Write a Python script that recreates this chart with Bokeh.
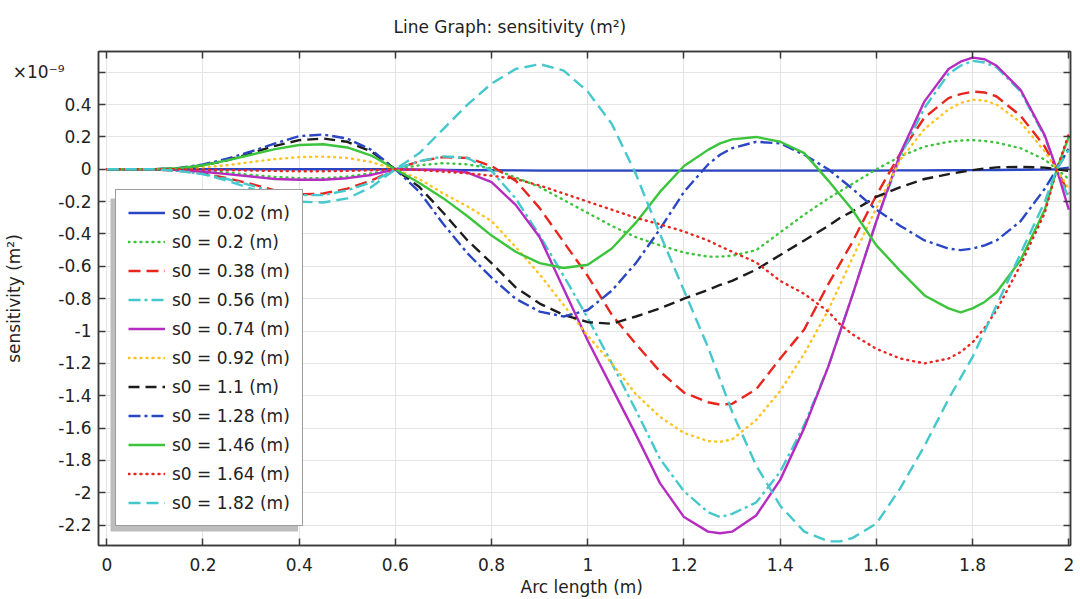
from bokeh.plotting import figure
from bokeh.models import (Range1d, LinearAxis, FixedTicker, Legend, LegendItem,
                          BoxAnnotation, CustomLabelingPolicy)
from bokeh.embed import file_html
from bokeh.resources import INLINE

# ---------------- data (values in 1e-9 m^2) ----------------
arc_length = [0.0, 0.05, 0.1, 0.15, 0.2, 0.25, 0.3, 0.35, 0.4, 0.45,
              0.5, 0.55, 0.6, 0.65, 0.7, 0.75, 0.8, 0.85, 0.9, 0.95,
              1.0, 1.05, 1.1, 1.15, 1.2, 1.25, 1.275, 1.3, 1.35, 1.4, 1.45,
              1.5, 1.525, 1.55, 1.6, 1.65, 1.7, 1.75, 1.775, 1.8, 1.825, 1.85, 1.9, 1.95,
              1.975, 2.0]

series_labels = ["s0 = 0.02 (m)", "s0 = 0.2 (m)", "s0 = 0.38 (m)", "s0 = 0.56 (m)",
                 "s0 = 0.74 (m)", "s0 = 0.92 (m)", "s0 = 1.1 (m)", "s0 = 1.28 (m)",
                 "s0 = 1.46 (m)", "s0 = 1.64 (m)", "s0 = 1.82 (m)"]

sens_s0_002 = [0, 0, 0, 0, 0, 0, 0, 0, 0, 0,
               0, 0, 0, -0.002, -0.004, -0.005, -0.006, -0.007, -0.008, -0.008,
               -0.008, -0.008, -0.008, -0.008, -0.008, -0.008, -0.008, -0.008, -0.008, -0.008, -0.008,
               -0.008, -0.008, -0.008, -0.008, -0.007, -0.007, -0.006, -0.005, -0.005, -0.005, -0.004, -0.003, -0.002,
               0, 0.01]
sens_s0_020 = [0, 0, 0, -0.003, -0.01, -0.02, -0.035, -0.047, -0.055, -0.055,
               -0.045, -0.025, 0, 0.025, 0.038, 0.03, 0.005, -0.05, -0.11, -0.19,
               -0.27, -0.35, -0.42, -0.47, -0.515, -0.54, -0.54, -0.535, -0.5, -0.39, -0.28,
               -0.18, -0.135, -0.09, 0.0, 0.08, 0.14, 0.17, 0.178, 0.18, 0.175, 0.165, 0.13, 0.06,
               0, -0.06]
sens_s0_038 = [0, 0, 0, -0.01, -0.025, -0.055, -0.09, -0.13, -0.155, -0.15,
               -0.12, -0.07, 0, 0.05, 0.075, 0.07, 0.02, -0.07, -0.24, -0.45,
               -0.66, -0.9, -1.08, -1.25, -1.38, -1.44, -1.455, -1.45, -1.36, -1.17, -0.99,
               -0.71, -0.58, -0.45, -0.16, 0.1, 0.32, 0.44, 0.465, 0.48, 0.475, 0.45, 0.33, 0.14,
               0, -0.15]
sens_s0_056 = [0, 0, 0, -0.01, -0.03, -0.06, -0.1, -0.14, -0.16, -0.16,
               -0.13, -0.08, 0, 0.05, 0.08, 0.07, -0.01, -0.18, -0.41, -0.66,
               -0.92, -1.2, -1.49, -1.79, -1.99, -2.12, -2.15, -2.13, -2.06, -1.87, -1.58,
               -1.22, -1.0, -0.78, -0.32, 0.08, 0.38, 0.59, 0.64, 0.67, 0.66, 0.63, 0.48, 0.2,
               0, -0.18]
sens_s0_074 = [0, 0, 0, -0.005, -0.015, -0.03, -0.045, -0.06, -0.065, -0.065,
               -0.055, -0.035, 0, -0.003, -0.004, -0.02, -0.08, -0.22, -0.42, -0.74,
               -1.06, -1.35, -1.64, -1.94, -2.15, -2.24, -2.25, -2.24, -2.14, -1.92, -1.6,
               -1.22, -1.0, -0.78, -0.32, 0.1, 0.42, 0.62, 0.665, 0.69, 0.68, 0.64, 0.49, 0.21,
               0, -0.25]
sens_s0_092 = [0, 0, 0, 0.003, 0.012, 0.025, 0.045, 0.063, 0.075, 0.078,
               0.07, 0.045, 0, -0.06, -0.15, -0.23, -0.32, -0.48, -0.65, -0.84,
               -1.03, -1.2, -1.39, -1.53, -1.63, -1.68, -1.685, -1.67, -1.55, -1.37, -1.14,
               -0.87, -0.71, -0.55, -0.24, 0.06, 0.25, 0.37, 0.41, 0.43, 0.425, 0.4, 0.29, 0.11,
               0, -0.12]
sens_s0_110 = [0, 0, 0, 0.005, 0.025, 0.055, 0.1, 0.145, 0.18, 0.19,
               0.17, 0.11, 0, -0.11, -0.27, -0.44, -0.58, -0.73, -0.83, -0.9,
               -0.945, -0.955, -0.91, -0.86, -0.8, -0.745, -0.715, -0.69, -0.62, -0.53, -0.44,
               -0.35, -0.3, -0.26, -0.17, -0.11, -0.06, -0.03, -0.017, -0.005, 0.004, 0.012, 0.015, 0.01,
               0, -0.01]
sens_s0_128 = [0, 0, 0, 0.008, 0.03, 0.065, 0.11, 0.16, 0.205, 0.215,
               0.19, 0.12, 0, -0.14, -0.34, -0.52, -0.67, -0.8, -0.88, -0.91,
               -0.87, -0.75, -0.58, -0.37, -0.14, 0.03, 0.09, 0.13, 0.17, 0.16, 0.09,
               0.0, -0.06, -0.12, -0.25, -0.35, -0.44, -0.49, -0.5, -0.49, -0.47, -0.44, -0.32, -0.12,
               0, 0.13]
sens_s0_146 = [0, 0, 0, 0.006, 0.025, 0.055, 0.09, 0.125, 0.15, 0.155,
               0.135, 0.085, 0, -0.085, -0.18, -0.29, -0.41, -0.51, -0.58, -0.61,
               -0.59, -0.49, -0.33, -0.14, 0.02, 0.12, 0.16, 0.185, 0.2, 0.17, 0.1,
               -0.07, -0.16, -0.25, -0.47, -0.63, -0.78, -0.86, -0.885, -0.86, -0.82, -0.76, -0.56, -0.25,
               0, 0.2]
sens_s0_164 = [0, 0, 0, 0, -0.003, -0.005, -0.008, -0.01, -0.012, -0.012,
               -0.01, -0.006, 0, -0.005, -0.015, -0.025, -0.04, -0.06, -0.1, -0.15,
               -0.2, -0.25, -0.3, -0.34, -0.385, -0.44, -0.476, -0.51, -0.575, -0.69, -0.77,
               -0.88, -0.96, -1.02, -1.11, -1.17, -1.2, -1.17, -1.13, -1.07, -0.98, -0.87, -0.59, -0.27,
               0, 0.22]
sens_s0_182 = [0, 0, 0, -0.01, -0.03, -0.07, -0.12, -0.17, -0.2, -0.205,
               -0.18, -0.11, 0, 0.1, 0.25, 0.4, 0.53, 0.62, 0.65, 0.61,
               0.48, 0.28, -0.03, -0.4, -0.75, -1.1, -1.3, -1.5, -1.83, -2.08, -2.24,
               -2.3, -2.3, -2.28, -2.19, -1.97, -1.71, -1.42, -1.29, -1.16, -1.0, -0.84, -0.52, -0.2,
               0, 0.12]

x_ticks = [0.0, 0.2, 0.4, 0.6, 0.8, 1.0, 1.2, 1.4, 1.6, 1.8, 2.0]
x_tick_labels = ["0", "0.2", "0.4", "0.6", "0.8", "1", "1.2", "1.4", "1.6", "1.8", "2"]
y_ticks = [-2.2, -2.0, -1.8, -1.6, -1.4, -1.2, -1.0, -0.8, -0.6, -0.4, -0.2, 0.0,
           0.2, 0.4, 0.6]
y_tick_labels = ["-2.2", "-2", "-1.8", "-1.6", "-1.4", "-1.2", "-1", "-0.8", "-0.6",
                 "-0.4", "-0.2", "0", "0.2", "0.4",
                 "×10⁻⁹\u00a0\u00a0\u00a0\u00a0\u00a0"]   # scale factor shown at top-left

title_text = "Line Graph: sensitivity (m²)"
x_title = "Arc length  (m)"
y_title = "sensitivity (m²)"

# ---------------- styles ----------------
all_series = [sens_s0_002, sens_s0_020, sens_s0_038, sens_s0_056, sens_s0_074,
              sens_s0_092, sens_s0_110, sens_s0_128, sens_s0_146, sens_s0_164,
              sens_s0_182]
colors = ["#2b46c4", "#3cc43c", "#e8261e", "#45c8cc", "#b42cc0", "#ffc31f",
          "#1c1c1c", "#2b46c4", "#3cc43c", "#e8261e", "#45c8cc"]
dashes = ["solid", "1 5", "12 6", "12 4 3 4", "solid", "1 5", "11 6", "12 4 3 4",
          "solid", "1 5", "12 6"]

FONT = "DejaVu Sans"
TXT = "#222222"

# frame geometry in pixels
W, H = 1080, 599
FL, FR, FT, FB = 96, 1070, 49, 546
X0_PX, X_PER = 104.3, 482.0      # pixel of x=0, pixels per unit
Y0_PX, Y_PER = 167.5, 162.75     # pixel of y=0, pixels per unit


def dx(px):
    return (px - X0_PX) / X_PER


def dy(py):
    return (Y0_PX - py) / Y_PER


p = figure(width=W, height=H, output_backend="svg", toolbar_location=None,
           x_range=Range1d(dx(FL), dx(FR)), y_range=Range1d(dy(FB), dy(FT)),
           min_border_left=FL, min_border_right=W - FR,
           min_border_top=FT, min_border_bottom=H - FB)
p.background_fill_color = "white"
p.border_fill_color = "white"
p.outline_line_color = "#3a3a3a"
p.outline_line_width = 1.5

p.title.text = title_text
p.title.align = "left"
p.title.offset = 391 - FL
p.title.text_font = FONT
p.title.text_font_size = "17px"
p.title.text_font_style = "normal"
p.title.text_color = TXT
p.title.standoff = 29

# grid
p.xgrid.ticker = FixedTicker(ticks=x_ticks)
p.ygrid.ticker = FixedTicker(ticks=y_ticks)
for g in (p.xgrid, p.ygrid):
    g.grid_line_color = "#e4e4e4"
    g.grid_line_width = 1


def style_axis(ax, ticks, labels, show_labels):
    ax.ticker = FixedTicker(ticks=ticks)
    ax.major_label_overrides = {t: l for t, l in zip(ticks, labels)}
    ax.major_tick_in = 7
    ax.major_tick_out = 0
    ax.minor_tick_in = 0
    ax.minor_tick_out = 0
    ax.axis_line_color = "#3a3a3a"
    ax.axis_line_width = 1.5
    ax.major_tick_line_color = "#3a3a3a"
    ax.major_tick_line_width = 1.5
    ax.major_label_text_font = FONT
    ax.major_label_text_color = TXT
    ax.major_label_text_font_size = "17px"
    ax.axis_label_text_font = FONT
    ax.axis_label_text_font_size = "17px"
    ax.axis_label_text_font_style = "normal"
    ax.axis_label_text_color = TXT
    if not show_labels:
        # frame-side axes carry ticks only
        ax.major_label_policy = CustomLabelingPolicy(
            code="for (const i of indices) { indices.unset(i) }")
        ax.major_label_text_font_size = "0px"
        ax.major_label_standoff = 0


xa = p.xaxis[0]
ya = p.yaxis[0]
style_axis(xa, x_ticks, x_tick_labels, True)
style_axis(ya, y_ticks, y_tick_labels, True)
xa.major_label_standoff = 12
ya.major_label_standoff = 7
xa.axis_label = x_title
xa.axis_label_standoff = 3
ya.axis_label = y_title
ya.axis_label_standoff = -14

top_ax = LinearAxis()
right_ax = LinearAxis()
style_axis(top_ax, x_ticks, x_tick_labels, False)
style_axis(right_ax, y_ticks, y_tick_labels, False)
p.add_layout(top_ax, "above")
p.add_layout(right_ax, "right")

# curves
renderers = []
for ys, c, d in zip(all_series, colors, dashes):
    cap = "round" if d == "1 5" else "butt"
    r = p.line(arc_length, ys, line_color=c, line_width=2.4, line_dash=d,
               line_cap=cap, line_join="round")
    renderers.append(r)

# legend shadow
shadow = BoxAnnotation(left=dx(108), right=dx(296), top=dy(197), bottom=dy(532),
                       fill_color="#bdbdbd", fill_alpha=1.0, line_alpha=0)
p.add_layout(shadow)

legend = Legend(items=[LegendItem(label=l, renderers=[r])
                       for l, r in zip(series_labels, renderers)],
                location=(113 - FL, FB - 527), margin=0, padding=12,
                spacing=8, glyph_width=37, glyph_height=21, label_height=21,
                label_standoff=7, label_text_font=FONT, label_text_font_size="17px",
                label_text_color=TXT, border_line_color="#3a3a3a",
                border_line_width=1.5, background_fill_color="white",
                background_fill_alpha=1.0)
p.add_layout(legend, "center")

open("out.html", "w").write(file_html(p, INLINE))
